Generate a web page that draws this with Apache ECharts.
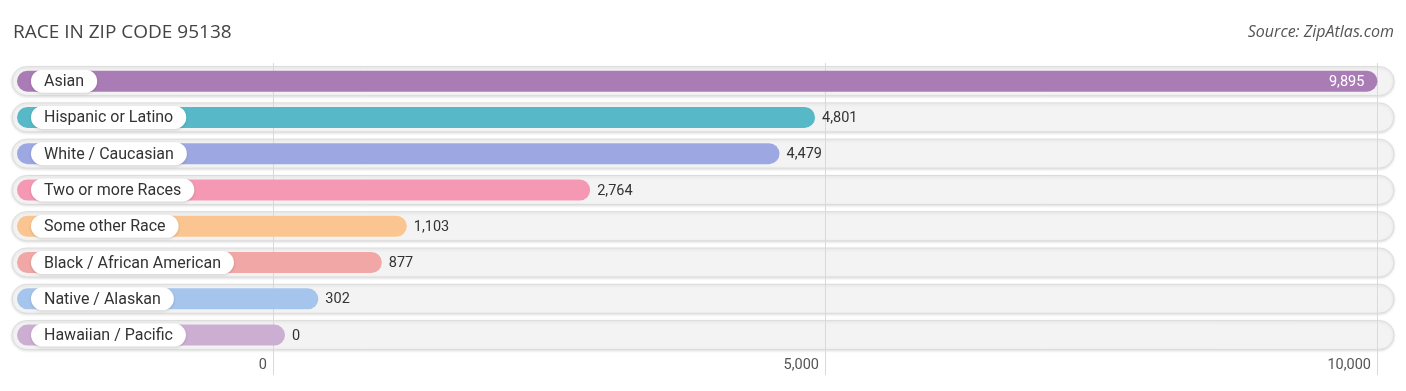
<!DOCTYPE html>
<html>
<head>
<meta charset="utf-8">
<script src="https://cdn.jsdelivr.net/npm/echarts@6/dist/echarts.min.js"></script>
<style>
html,body{margin:0;padding:0;background:#fff;}
#chart{width:1406px;height:391px;}
</style>
</head>
<body>
<div id="chart"></div>
<script>
const categories = ["Asian","Hispanic or Latino","White / Caucasian","Two or more Races","Some other Race","Black / African American","Native / Alaskan","Hawaiian / Pacific"];
const values = [9895, 4801, 4479, 2764, 1103, 877, 302, 0];
const colors = ["#aa7cb6","#57b9c7","#9da8e3","#f598b4","#fac591","#f0a7a5","#a6c5ec","#cdaed3"];
const xTicks = [0, 5000, 10000];
const titleText = "RACE IN ZIP CODE 95138";
const sourceText = "Source: ZipAtlas.com";

const chart = echarts.init(document.getElementById('chart'));
const XMAX = 10000;
const FONT = 'Roboto';

function fmt(v){ return v.toLocaleString('en-US'); }

const data = values.map((v,i)=>[v,i]);

const cv = document.createElement('canvas').getContext('2d');
function measure(t, f){ cv.font = f; return cv.measureText(t).width; }

function trackItem(params, api){
  const i = api.value(1);
  const p0 = api.coord([0, i]);
  const pm = api.coord([XMAX, i]);
  const h = 29;
  return {
    type:'rect',
    shape:{x:p0[0]-261, y:p0[1]-h/2, width:(pm[0]+17)-(p0[0]-261), height:h, r:h/2},
    style:{fill:'#f3f3f3', stroke:'#dcdcdc', lineWidth:1, shadowBlur:3, shadowColor:'rgba(0,0,0,0.12)', shadowOffsetY:1}
  };
}

function barItem(params, api){
  const i = api.value(1);
  const v = api.value(0);
  const p0 = api.coord([0, i]);
  const pv = api.coord([v, i]);
  const h = 21;
  const x0 = p0[0]-256;
  const x1 = pv[0]+12;
  const label = categories[i];
  const inside = v/XMAX > 0.9;
  const children = [
    {type:'rect', shape:{x:x0, y:pv[1]-h/2, width:x1-x0, height:h, r:h/2}, style:{fill:colors[i]}},
  ];
  const tw = measure(label, '16px ' + FONT);
  children.push({type:'rect', shape:{x:p0[0]-242, y:pv[1]-11.5, width:tw+26, height:23, r:11.5},
    style:{fill:'#ffffff', shadowBlur:3, shadowColor:'rgba(0,0,0,0.15)', shadowOffsetY:1}});
  children.push({type:'text', style:{x:p0[0]-229, y:pv[1]+1, text:label, fill:'#333', font:'16px '+FONT, verticalAlign:'middle'}});
  if(inside){
    children.push({type:'text', style:{x:x1-13, y:pv[1]+1, text:fmt(v), fill:'#fff', font:'14.5px '+FONT, align:'right', verticalAlign:'middle'}});
  } else {
    children.push({type:'text', style:{x:x1+7, y:pv[1]+1, text:fmt(v), fill:'#333', font:'14.5px '+FONT, align:'left', verticalAlign:'middle'}});
  }
  return {type:'group', children};
}

chart.setOption({
  animation:false,
  title:[
    {text:titleText, left:8, top:18, textStyle:{fontFamily:'Open Sans', fontSize:19, fontWeight:'normal', color:'#444'}},
    {text:sourceText, right:7, top:19, textStyle:{fontFamily:'Open Sans', fontSize:16, fontStyle:'italic', fontWeight:'normal', color:'#555'}}
  ],
  grid:{left:273, right:29, top:63, bottom:16, containLabel:false},
  xAxis:{type:'value', min:0, max:XMAX, interval:5000,
    axisLine:{show:false}, axisTick:{show:false},
    splitLine:{show:true, lineStyle:{color:'#d9d9d9', width:1}},
    axisLabel:{inside:true, margin:2, align:'right', padding:[0,6,0,0], color:'#555', fontFamily:FONT, fontSize:14.5,
      showMinLabel:true, showMaxLabel:true,
      formatter:(v)=> xTicks.indexOf(v)>=0 ? fmt(v) : ''}
  },
  yAxis:{type:'value', inverse:true, min:-0.5, max:8.1, show:false, splitLine:{show:false}},
  series:[
    {type:'custom', renderItem:trackItem, data:data, z:-1, clip:false, silent:true},
    {type:'custom', renderItem:barItem, data:data, z:3, clip:false}
  ]
});
</script>
</body>
</html>
